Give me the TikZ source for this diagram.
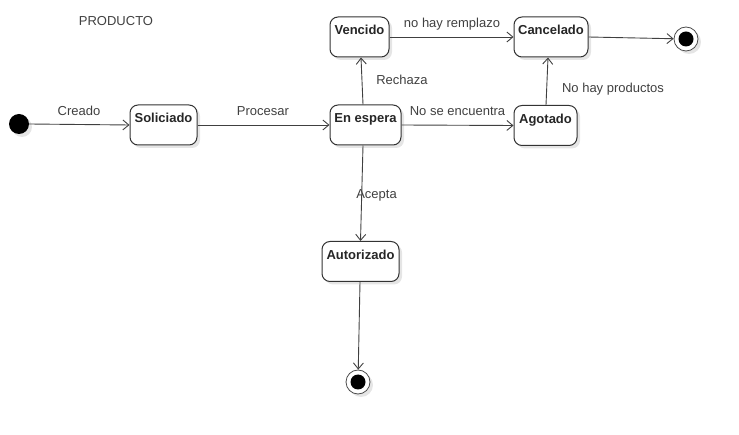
\documentclass[tikz,border=0pt]{standalone}
\usepackage{fontspec}
\setmainfont{Liberation Sans}
\usetikzlibrary{arrows.meta,shadows}
\begin{document}
\begin{tikzpicture}[x=1pt,y=-1pt,
  shd/.style={drop shadow={shadow xshift=3pt, shadow yshift=-3pt, fill=black!10, opacity=1}},
  st/.style={draw=black!80, line width=1pt, rounded corners=8pt, fill=white,
    font=\fontsize{13}{15}\selectfont\bfseries, text=black!85,
    inner xsep=0pt, inner ysep=0pt, text height=18pt, text depth=22pt,
    minimum height=40pt, shd},
  ed/.style={draw=black!75, line width=0.9pt, -{Straight Barb[length=6pt,width=10pt]}},
  lb/.style={font=\fontsize{13}{15}\selectfont, text=black!75, inner sep=0pt,
    text height=9pt, text depth=3pt},
  fin/.style={circle, draw=black!70, fill=white, line width=0.8pt, minimum size=24pt, inner sep=0pt, shd},
  dot/.style={circle, fill=black, inner sep=0pt},
]
\useasboundingbox (0,0) rectangle (739,435);

\node[lb] (title) at (116,23) {PRODUCTO};

\node[dot, minimum size=20pt, shd] (ini) at (19,124) {};
\node[st, minimum width=67pt] (sol) at (163.5,125) {Soliciado};
\node[st, minimum width=71pt] (esp) at (365.5,125) {En espera};
\node[st, minimum width=59pt] (ven) at (359.5,37) {Vencido};
\node[st, minimum width=74pt] (can) at (551,37) {Cancelado};
\node[st, minimum width=63pt] (ago) at (545.5,125.5) {Agotado};
\node[st, minimum width=77pt] (aut) at (360.5,261.5) {Autorizado};

\node[fin] (f1) at (686,39) {};
\node[dot, minimum size=15pt] (f1in) at (f1) {};
\node[fin] (f2) at (358,382) {};
\node[dot, minimum size=15pt] (f2in) at (f2) {};

\draw[ed] (ini.east) -- (sol.west);
\draw[ed] (sol.east) -- (esp.west);
\draw[ed] ([xshift=-2.5pt]esp.north) -- ([xshift=1.5pt]ven.south);
\draw[ed] (ven.east) -- (can.west);
\draw[ed] (esp.east) -- (ago.west);
\draw[ed] ([xshift=0.5pt]ago.north) -- ([xshift=-3pt]can.south);
\draw[ed] (can.east) -- (f1);
\draw[ed] ([xshift=-2.5pt]esp.south) -- (aut.north);
\draw[ed] ([xshift=-0.5pt]aut.south) -- (f2);

\node[lb] (lcre) at (79,113) {Creado};
\node[lb] (lpro) at (263,113) {Procesar};
\node[lb] (lrec) at (402,82) {Rechaza};
\node[lb] (lrem) at (452,25) {no hay remplazo};
\node[lb] (lenc) at (457.5,113) {No se encuentra};
\node[lb] (lprod) at (613,90) {No hay productos};
\node[lb] (lace) at (376.5,196) {Acepta};
\end{tikzpicture}
\end{document}
